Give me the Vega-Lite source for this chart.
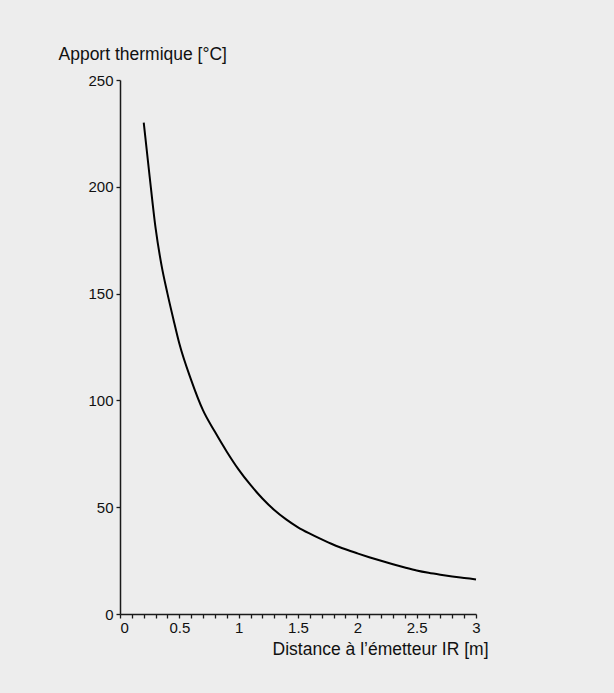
{
  "$schema": "https://vega.github.io/schema/vega-lite/v6.json",
  "width": 356,
  "height": 534,
  "autosize": "none",
  "padding": {"left": 120, "top": 80, "right": 138, "bottom": 79},
  "background": "#ededed",
  "config": {
    "view": {"stroke": null},
    "font": "Liberation Sans",
    "axis": {
      "domainColor": "#1a1a1a",
      "domainWidth": 1.5,
      "tickColor": "#1a1a1a",
      "tickWidth": 1.3,
      "tickSize": 4,
      "grid": false,
      "labelFont": "Liberation Sans",
      "labelFontSize": 15,
      "labelColor": "#111111",
      "titleFont": "Liberation Sans",
      "titleFontSize": 17.5,
      "titleFontWeight": "normal",
      "titleColor": "#111111"
    }
  },
  "data": {
    "values": [
      {"d": 0.2, "t": 230},
      {"d": 0.25, "t": 204.7},
      {"d": 0.3, "t": 180.6},
      {"d": 0.35, "t": 163.2},
      {"d": 0.4, "t": 150},
      {"d": 0.45, "t": 138},
      {"d": 0.5, "t": 126.6},
      {"d": 0.6, "t": 109.5},
      {"d": 0.7, "t": 95.3},
      {"d": 0.8, "t": 85.3},
      {"d": 0.9, "t": 76},
      {"d": 1.0, "t": 67.6},
      {"d": 1.1, "t": 60.4},
      {"d": 1.2, "t": 54.1},
      {"d": 1.3, "t": 48.7},
      {"d": 1.4, "t": 44.3},
      {"d": 1.5, "t": 40.6},
      {"d": 1.6, "t": 37.6},
      {"d": 1.7, "t": 34.9},
      {"d": 1.8, "t": 32.4},
      {"d": 1.9, "t": 30.3},
      {"d": 2.0, "t": 28.4},
      {"d": 2.1, "t": 26.6},
      {"d": 2.2, "t": 24.9},
      {"d": 2.3, "t": 23.3},
      {"d": 2.4, "t": 21.8},
      {"d": 2.5, "t": 20.4},
      {"d": 2.6, "t": 19.3},
      {"d": 2.7, "t": 18.4},
      {"d": 2.8, "t": 17.6},
      {"d": 2.9, "t": 16.9},
      {"d": 3.0, "t": 16.2}
    ]
  },
  "mark": {"type": "line", "color": "#000000", "strokeWidth": 2, "interpolate": "monotone"},
  "encoding": {
    "x": {
      "field": "d",
      "type": "quantitative",
      "scale": {"domain": [0, 3], "nice": false},
      "axis": {
        "title": "Distance à l’émetteur IR [m]",
        "titleAlign": "right",
        "titleBaseline": "alphabetic",
        "titleX": 368,
        "titleY": 40,
        "values": [0, 0.1, 0.2, 0.3, 0.4, 0.5, 0.6, 0.7, 0.8, 0.9, 1, 1.1, 1.2, 1.3, 1.4, 1.5, 1.6, 1.7, 1.8, 1.9, 2, 2.1, 2.2, 2.3, 2.4, 2.5, 2.6, 2.7, 2.8, 2.9, 3],
        "labelExpr": "abs(datum.value * 2 - round(datum.value * 2)) < 0.001 ? format(datum.value, '~g') : ''",
        "labelOverlap": false,
        "labelFlush": false,
        "labelPadding": 2,
        "labelAlign": {"condition": {"test": "datum.value == 0", "value": "left"}, "value": "center"},
        "encode": {
          "ticks": {
            "enter": {"y": {"value": -4}},
            "update": {"y": {"value": -4}}
          }
        }
      }
    },
    "y": {
      "field": "t",
      "type": "quantitative",
      "scale": {"domain": [0, 250], "nice": false},
      "axis": {
        "title": "Apport thermique [°C]",
        "titleAngle": 0,
        "titleAlign": "left",
        "titleBaseline": "alphabetic",
        "titleX": -62,
        "titleY": -20.5,
        "values": [0, 50, 100, 150, 200, 250],
        "labelPadding": 3,
        "encode": {
          "ticks": {
            "enter": {"x": {"value": 4}},
            "update": {"x": {"value": 4}}
          }
        }
      }
    }
  }
}
